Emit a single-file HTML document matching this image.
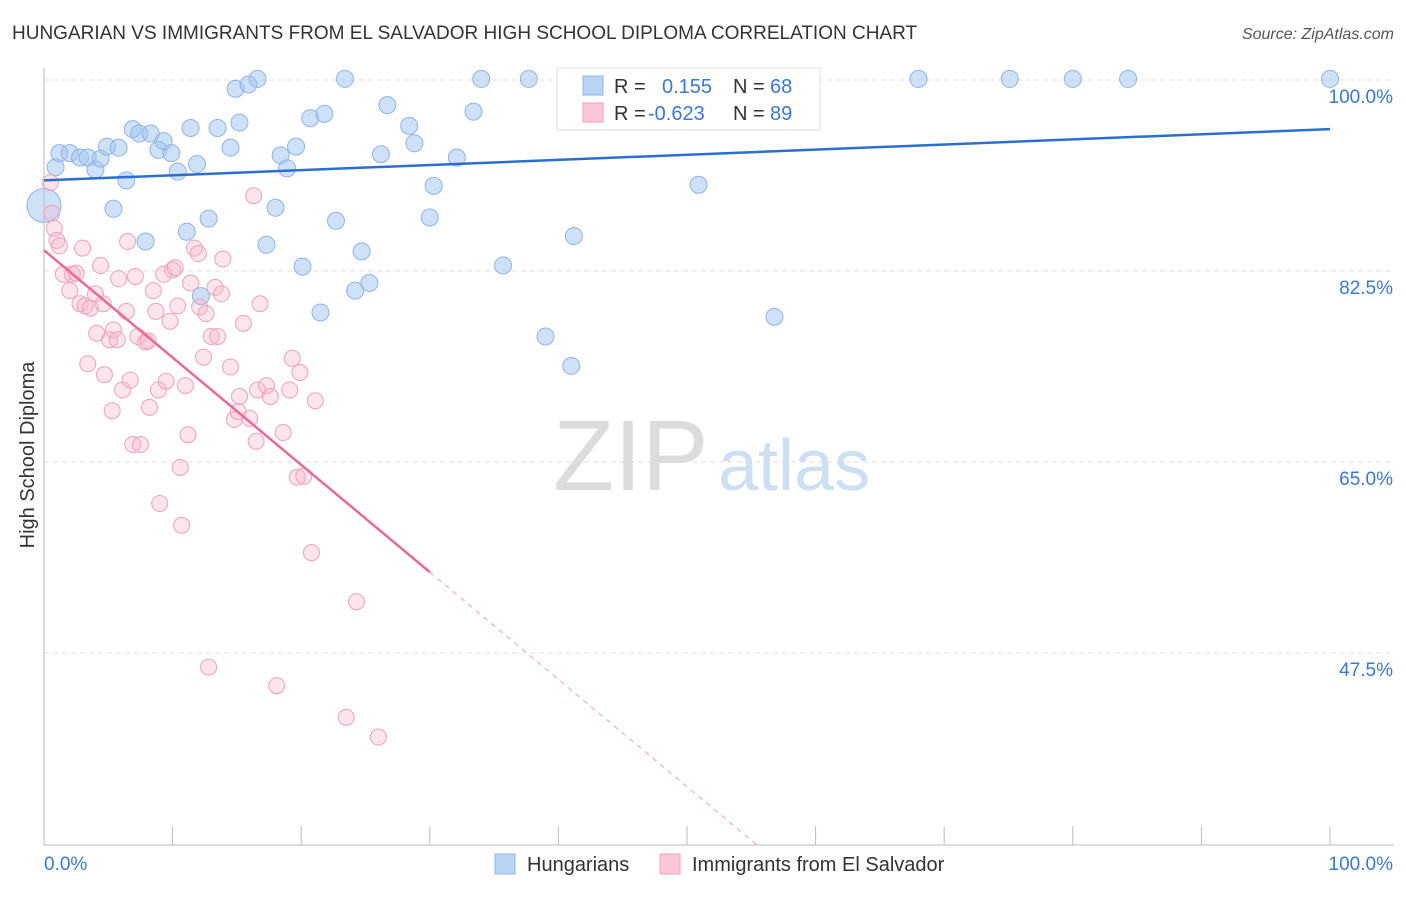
<!DOCTYPE html>
<html><head><meta charset="utf-8"><style>
body{margin:0;background:#fff;font-family:"Liberation Sans",sans-serif;}
svg text{font-family:"Liberation Sans",sans-serif;}
</style></head><body>
<svg id="c" width="1406" height="892" xmlns="http://www.w3.org/2000/svg">
<text x="12" y="39" font-size="19" fill="#333">HUNGARIAN VS IMMIGRANTS FROM EL SALVADOR HIGH SCHOOL DIPLOMA CORRELATION CHART</text>
<text x="1394" y="39" font-size="16" fill="#555" font-style="italic" text-anchor="end">Source: ZipAtlas.com</text>
<text x="553" y="490" font-size="100" fill="#dcdcdc" font-family="Liberation Serif, serif">ZIP</text>
<text x="718" y="490" font-size="72" fill="#cddff3">atlas</text>
<g id="grid"></g>
<g id="axes"></g>
<g id="marks"></g>
<text transform="translate(34,455) rotate(-90)" font-size="20" fill="#333" text-anchor="middle">High School Diploma</text>
<g>
<rect x="557" y="68" width="263" height="62" fill="#fff" stroke="#ddd"/>
<rect x="583" y="76" width="20" height="19" fill="#b9d3f5" stroke="#8fb4e6"/>
<text x="614" y="93" font-size="20" fill="#333">R = </text><text x="662" y="93" font-size="20" fill="#3a78d4">0.155</text>
<text x="733" y="93" font-size="20" fill="#333">N = </text><text x="770" y="93" font-size="20" fill="#3a78d4">68</text>
<rect x="583" y="103" width="20" height="19" fill="#fbc6d6" stroke="#f0a0bc"/>
<text x="614" y="120" font-size="20" fill="#333">R = </text><text x="648" y="120" font-size="20" fill="#3a78d4">-0.623</text>
<text x="733" y="120" font-size="20" fill="#333">N = </text><text x="770" y="120" font-size="20" fill="#3a78d4">89</text>
</g>
<g>
<rect x="495" y="854" width="20" height="20" fill="#b9d3f5" stroke="#8fb4e6"/>
<text x="527" y="871" font-size="20" fill="#333">Hungarians</text>
<rect x="660" y="854" width="20" height="20" fill="#fbc6d6" stroke="#f0a0bc"/>
<text x="692" y="871" font-size="20" fill="#333">Immigrants from El Salvador</text>
</g>
</svg>
<script>
const yTicks=[100,82.5,65,47.5];
const yTickLabels=["100.0%","82.5%","65.0%","47.5%"];
const xTicks=[0,10,20,30,40,50,60,70,80,90,100];
const blueX=[0.9,1.2,2.0,2.8,3.4,4.0,4.4,4.9,5.4,5.8,6.4,6.9,7.4,7.9,8.3,8.9,9.3,9.9,10.4,11.1,11.4,11.9,12.2,12.8,13.5,14.5,15.2,14.9,15.9,16.6,17.3,18.0,18.4,18.9,19.6,20.1,20.7,21.5,21.8,22.7,23.4,24.2,24.7,25.3,26.2,26.7,28.4,28.8,30.0,30.3,32.1,33.4,34.0,35.7,37.7,39.0,41.0,41.2,50.9,54.0,56.8,68.0,75.1,80.0,84.3,100];
const blueY=[92.0,93.3,93.3,92.9,92.9,91.8,92.8,93.9,88.2,93.8,90.8,95.5,95.1,85.2,95.1,93.6,94.4,93.3,91.6,86.1,95.6,92.3,80.2,87.3,95.6,93.8,96.1,99.2,99.6,100.1,84.9,88.3,93.1,91.9,93.9,82.9,96.5,78.7,96.9,87.1,100.1,80.7,84.3,81.4,93.2,97.7,95.8,94.2,87.4,90.3,92.9,97.1,100.1,83.0,100.1,76.5,73.8,85.7,90.4,100.1,78.3,100.1,100.1,100.1,100.1,100.1];
const pinkX=[0.5,0.6,0.8,1.0,1.2,1.5,2.0,2.2,2.5,2.8,3.0,3.2,3.4,3.6,4.0,4.1,4.4,4.6,4.7,5.1,5.3,5.4,5.7,5.8,6.1,6.4,6.5,6.7,6.9,7.1,7.3,7.5,7.9,8.1,8.2,8.5,8.7,8.9,9.0,9.3,9.5,9.8,10.0,10.2,10.4,10.6,10.7,11.0,11.2,11.4,11.7,12.0,12.1,12.4,12.6,12.8,13.0,13.3,13.5,13.8,13.9,14.5,14.8,15.1,15.2,15.5,16.0,16.3,16.5,16.6,16.8,17.3,17.6,18.1,18.6,19.1,19.3,19.7,19.9,20.2,20.8,21.1,23.5,24.3,26.0];
const pinkY=[90.6,87.8,86.4,85.3,84.8,82.2,80.7,82.2,82.3,79.5,84.6,79.3,74.0,79.1,80.4,76.8,83.0,79.5,73.0,76.2,69.7,77.1,76.2,81.8,71.6,78.8,85.2,72.5,66.6,82.0,76.5,66.6,76.0,76.1,70.0,80.7,78.8,71.6,61.2,82.2,72.4,77.9,82.6,82.8,79.3,64.5,59.2,72.0,67.5,81.4,84.6,84.1,79.2,74.6,78.6,46.2,76.5,81.0,76.5,80.4,83.6,73.7,68.9,69.6,71.0,77.7,69.0,89.4,66.9,71.6,79.5,72.0,71.0,44.5,67.7,71.6,74.5,63.6,73.2,63.7,56.7,70.6,41.6,52.2,39.8];
const blueLine=[90.8,95.5];   // y at x=0, x=100
const pinkLine=[84.4,-0.983]; // intercept, slope
const NS="http://www.w3.org/2000/svg";
const X=v=>44+v*12.86, Y=v=>80+(100-v)*10.914;
function mk(t,a,p){const e=document.createElementNS(NS,t);for(const k in a)e.setAttribute(k,a[k]);p.appendChild(e);return e;}
const grid=document.getElementById('grid'),axes=document.getElementById('axes'),marks=document.getElementById('marks');
yTicks.forEach((v,i)=>{
 const l=mk('line',{x1:44,x2:1394,y1:Y(v),y2:Y(v),stroke:'#dedede','stroke-dasharray':'5,4'},grid);
 
 
 const t=mk('text',{x:1393,y:Y(v)+23,'font-size':19,fill:'#3a78d4','text-anchor':'end'},grid);
 t.textContent=yTickLabels[i];
 
 
});
let a=mk('line',{x1:44,x2:44,y1:68,y2:845,stroke:'#bbb'},axes);


a=mk('line',{x1:44,x2:1394,y1:845,y2:845,stroke:'#bbb'},axes);


xTicks.forEach(v=>{const t=mk('line',{x1:X(v),x2:X(v),y1:826,y2:845,stroke:'#bbb'},axes);
 
 });
let t=mk('text',{x:44,y:870,'font-size':19,fill:'#3a78d4'},axes);t.textContent='0.0%';


t=mk('text',{x:1393,y:870,'font-size':19,fill:'#3a78d4','text-anchor':'end'},axes);t.textContent='100.0%';


blueX.forEach((x,i)=>{const c=mk('circle',{cx:X(x),cy:Y(blueY[i]),r:8.5,fill:'rgba(160,196,240,0.5)',stroke:'#8fb4e6','stroke-width':1},marks);
 
 });
let big=mk('circle',{cx:X(0),cy:Y(88.5),r:17,fill:'rgba(160,196,240,0.5)',stroke:'#8fb4e6'},marks);


pinkX.forEach((x,i)=>{const c=mk('circle',{cx:X(x),cy:Y(pinkY[i]),r:8,fill:'rgba(248,180,200,0.35)',stroke:'#f0a0bc','stroke-width':1},marks);
 
 });
let ln=mk('line',{x1:X(0),y1:Y(blueLine[0]),x2:X(100),y2:Y(blueLine[1]),stroke:'#2a6fd0','stroke-width':2.5},marks);


const pe=30,pd=55.7;
ln=mk('line',{x1:X(0),y1:Y(pinkLine[0]),x2:X(pe),y2:Y(pinkLine[0]+pinkLine[1]*pe),stroke:'#e8699a','stroke-width':2.5},marks);


ln=mk('line',{x1:X(pe),y1:Y(pinkLine[0]+pinkLine[1]*pe),x2:X(pd),y2:Y(pinkLine[0]+pinkLine[1]*pd),stroke:'#e8a0bc','stroke-width':1,'stroke-dasharray':'5,5'},marks);


</script>
</body></html>
